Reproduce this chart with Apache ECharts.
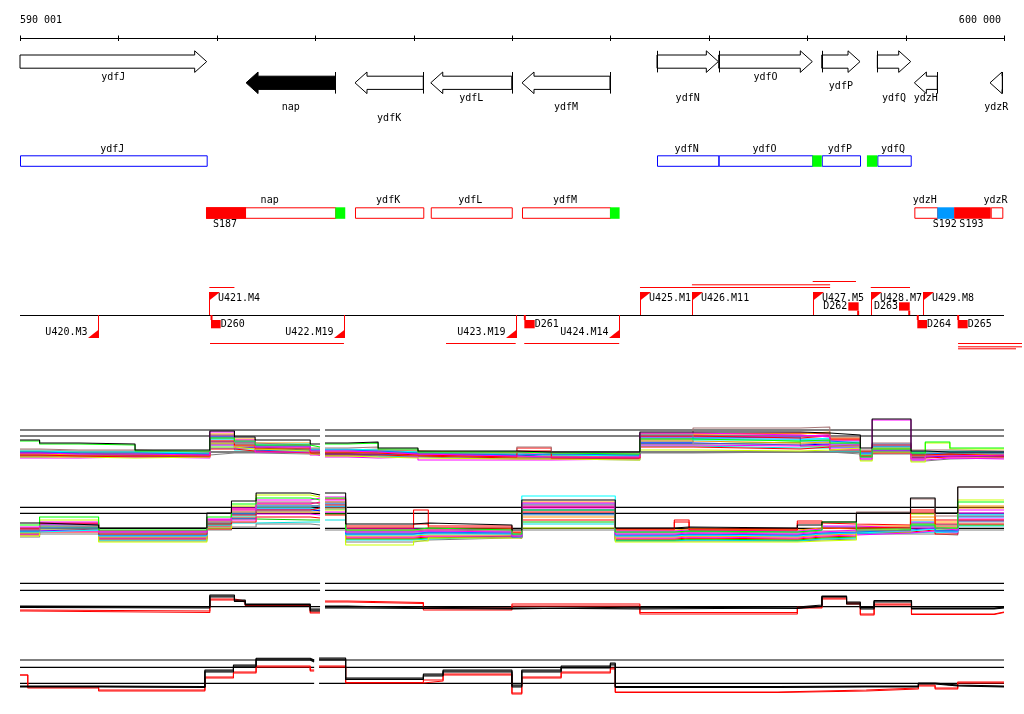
<!DOCTYPE html>
<html><head><meta charset="utf-8">
<script src="https://cdn.jsdelivr.net/npm/echarts@6.0.0/dist/echarts.min.js"></script>
<style>html,body{margin:0;padding:0;background:#fff}#c{width:1024px;height:714px}</style>
</head><body><div id="c"></div>
<script>
// ================= DATA =================
const regionStart = 590001, regionEnd = 600000;
const rulerTicks = [590001, 591000, 592000, 593000, 594000, 595000, 596000, 597000, 598000, 599000, 600000];
const rulerLabels = ['590 001', '600 000'];

// genes (arrows)
const geneNames  = ['ydfJ','nap','ydfK','ydfL','ydfM','ydfN','ydfO','ydfP','ydfQ','ydzH','ydzR'];
const geneStart  = [590001, 592298, 593405, 594175, 595102, 596474, 597101, 598148, 598713, 599089, 599858];
const geneEnd    = [591898, 593205, 594099, 594998, 595996, 597097, 598052, 598537, 599052, 599322, 599983];
const geneStrand = ['+','-','-','-','-','+','+','+','+','-','-'];
const focusGene  = 'nap';

// transcription unit boxes
const boxNames  = ['ydfJ','ydfN','ydfO','ydfP','ydfQ','nap','ydfK','ydfL','ydfM','ydzH','ydzR'];
const boxStart  = [590001, 596474, 597101, 598148, 598713, 591891, 593405, 594175, 595102, 599089, 599865];
const boxEnd    = [591898, 597097, 598052, 598537, 599052, 593205, 594099, 594998, 595996, 599322, 599983];
const boxStrand = ['+','+','+','+','+','-','-','-','-','-','-'];

// coloured segments on boxes
const segNames  = ['S187','S192','S193','','','',''];
const segStart  = [591891, 599322, 599493, 593205, 595996, 598052, 598607];
const segEnd    = [592298, 599493, 599865, 593306, 596094, 598148, 598713];
const segStrand = ['-','-','-','-','-','+','+'];
const segKind   = ['up','mid','up','term','term','term','term'];

// promoters
const promNames  = ['U420.M3','U421.M4','U422.M19','U423.M19','U424.M14','U425.M1','U426.M11','U427.M5','U428.M7','U429.M8'];
const promPos    = [590797, 591925, 593293, 595038, 596088, 596301, 596829, 598056, 598646, 599174];
const promStrand = ['-','+','-','-','-','+','+','+','+','+'];

// transcript extents
const extStart  = [591925, 596301, 596829, 598056, 598646, 591932, 594330, 595125, 599533, 599533, 599533];
const extEnd    = [592180, 598233, 598233, 598496, 599045, 593293, 595038, 596090, 600183, 600183, 600122];
const extStrand = ['+','+','+','+','+','-','-','-','-','-','-'];

// terminators
const termNames  = ['D260','D261','D262','D263','D264','D265'];
const termStart  = [591942, 595126, 598418, 598933, 599119, 599529];
const termEnd    = [592040, 595231, 598523, 599042, 599218, 599631];
const termStrand = ['-','-','+','+','-','-'];

// expression track A
const trackA_x = [590001,590200,590600,591170,591930,592180,592390,592950,593050,593100,593330,593640,594045,595050,595400,596300,596840,597930,598230,598540,598660,599055,599200,599450,600000];
const trackA_ref = [35, 29, 13];
const trackA_values = [
 [25,22,21,15,34,28,25,21,null,22,23,17,14,13,13,33,33,32,30,17,46,14,13,13],
 [24,21,20,14,27,24,20,18,null,21,22,16,13,12,11,26,24,25,22,8,16,12,23,17],
 [12,11,11,10,33,25,18,14,null,14,13,11,9,8,8,32,30,28,20,6,45,6,9,10],
 [16,15,15,13,30,22,20,17,null,17,18,15,12,18,12,31,37,38,28,15,22,15,15,14],
 [10,9,9,9,24,20,17,12,null,12,12,10,8,17,7,29,27,29,26,14,20,10,11,9],
 [13,12,12,11,28,23,19,15,null,15,14,12,10,11,10,27,28,24,22,12,19,11,12,12],
 [14,13,13,12,26,21,21,16,null,16,15,13,11,10,9,30,25,27,23,11,18,13,14,13],
 [11,10,10,9,22,19,16,13,null,13,12,10,8,9,8,24,22,23,19,10,17,9,10,11],
 [15,14,14,12,25,20,18,15,null,15,16,13,11,10,10,25,21,22,21,13,16,12,13,12],
 [8,8,7,8,18,16,14,11,null,9,8,7,6,6,5,15,14,15,17,4,13,3,22,16],
 [7,7,8,7,20,17,13,10,null,8,7,8,5,5,6,20,19,20,16,7,15,5,7,6],
 [9,9,8,8,16,14,12,10,null,10,10,9,7,7,7,18,16,18,15,9,12,7,8,8],
 [12,11,10,10,23,18,15,12,null,11,11,11,9,9,9,22,20,21,18,9,14,8,9,9],
 [13,12,11,11,21,17,15,13,null,12,13,12,10,8,10,21,23,19,20,10,15,10,11,10],
 [10,10,9,9,19,15,13,11,null,11,9,9,7,7,6,19,17,17,14,8,13,6,10,11],
 [9,8,9,10,12,12,11,10,null,9,9,8,6,6,5,12,13,13,11,5,11,4,6,7],
 [11,10,10,9,29,24,20,14,null,13,14,12,9,12,8,28,29,30,24,12,14,9,10,10],
 [14,13,12,11,31,26,22,16,null,14,15,14,12,10,11,26,31,33,27,13,17,12,12,11],
 [8,9,9,8,17,18,16,12,null,10,11,10,8,8,7,23,26,26,21,11,21,8,9,9],
 [12,12,11,10,27,22,19,14,null,12,13,12,10,14,9,31,32,31,25,13,18,11,11,12]
];

// expression track B
const trackB_x = [590001,590200,590800,591900,592150,592400,592950,593050,593100,593310,594000,594150,595000,595100,596050,596650,596800,597900,598150,598500,599050,599300,599530,600000];
const trackB_ref = [42.7, 36.7, 21.7];
const trackB_values = [
 [27,25,22,37,49,57,55,null,57,26,27,25,20,50,22,23,22,25,28,37,52,37,63],
 [25,33,20,33,46,52,50,null,52,20,22,20,16,40,18,19,18,20,28,20,25,22,48],
 [23,28,18,30,40,50,52,null,53,18,19,18,14,47,16,17,16,18,20,19,22,20,40],
 [20,24,17,28,38,48,46,null,48,19,20,19,15,45,17,18,17,19,19,38,51,34,63],
 [21,27,16,26,35,40,42,null,45,24,40,24,18,38,21,30,20,29,22,23,38,26,30],
 [19,22,15,27,36,44,44,null,46,16,18,17,13,36,15,16,15,17,18,20,22,19,33],
 [18,20,14,25,34,42,41,null,44,15,16,16,14,54,14,15,14,16,17,19,21,18,35],
 [17,21,13,24,33,38,38,null,42,14,15,15,13,33,13,14,13,15,16,21,30,24,42],
 [22,24,18,29,37,45,43,null,47,17,17,17,15,35,15,16,15,17,18,20,23,21,28],
 [14,30,8,22,44,55,53,null,40,5,9,12,12,22,8,8,8,9,10,18,36,22,50],
 [16,19,12,23,30,36,35,null,38,13,14,14,12,42,12,13,12,14,15,17,19,17,31],
 [15,18,11,21,28,33,32,null,35,12,13,13,14,30,11,12,11,13,14,18,20,16,26],
 [19,21,14,24,32,41,39,null,43,16,17,16,13,40,14,15,14,16,17,18,24,19,29],
 [17,23,12,26,31,30,30,null,36,11,12,14,12,28,10,11,10,12,13,22,26,20,25],
 [16,20,10,22,27,28,28,null,30,10,11,13,13,26,9,10,9,11,12,17,18,17,24],
 [13,16,9,20,23,26,25,null,20,8,10,12,12,20,9,9,9,10,11,16,16,15,20],
 [21,26,19,31,42,47,47,null,50,21,21,20,16,44,19,20,19,21,24,22,27,23,37],
 [18,22,16,28,39,43,45,null,48,20,20,21,17,48,20,21,20,22,21,24,33,28,44],
 [20,25,17,25,36,39,40,null,41,18,18,18,15,46,18,19,18,20,23,21,28,25,36],
 [22,26,19,30,41,46,48,null,51,22,26,22,17,43,20,28,21,27,26,25,40,30,34]
];

// expression track C
const trackC_x = [590001,590060,591930,592180,592290,592950,593050,593100,593330,594100,595000,596300,597900,598150,598400,598540,598680,599060,599900,600000];
const trackC_ref = [36.7, 29.7, 13.3];
const trackC_values = [
 [14,13.5,25,20,16,11,null,13,13,11.5,12,13,15,24,18,12,19.5,12,13],
 [13,13,24,19,15.5,10,null,14,12,12,11,12,14,23.5,17,11,19,11,12],
 [12.5,12,23,18.5,15,9,null,12,11.5,11,13,11.5,13.5,23,16,12.5,18,11.5,12.5],
 [10,9,21,19,15,8,null,19,17.5,12,16,7.5,13,22,17,5,16,6,8],
 [9,7.5,20,18,14.5,7,null,18,16.5,10,14,6,12,21,16,6,15,5.5,7.5]
];

// expression track D
const trackD_x = [590001,590080,590800,591880,592170,592400,592950,592990,593040,593310,594100,594300,595000,595100,595500,596000,596050,597700,598600,599130,599300,599530,600000];
const trackD_ref = [40, 32.7, 16.7];
const trackD_values = [
 [14,14,13.5,30,35,41.7,40,null,42,22,26,30,15,30,34,37,13.5,14,14,17,15,14],
 [13.5,13.5,13,29,34,41,39,null,41,21,25,29,14,29,33,36,13,13.5,13.5,16.5,14.5,13.5],
 [13,13,12.5,28,33,40,38,null,40,20.5,24,28,13,28,32,35,12.5,13,13,16,14,13],
 [25,13,10,23,28,34,30,null,34,17.5,20,26,7,23,28,32,8,10,12,15,12,18],
 [25,12,9,22,27,33,29,null,33,17,19,25,6,22,27,31,7.5,9,11,14,11,17]
];

// ================= STYLE / LAYOUT =================
const FONT = '10px "DejaVu Sans Mono", "Liberation Mono", monospace';
const multiColors = ['#000000','#00ff00','#ff00ff','#a87878','#ff0000','#0080ff','#00ffff','#ff9900','#999999','#ccff00','#ff00ff','#ff0000','#0000ff','#00cc00','#00e0e0','#808080','#ff00ff','#ff9900','#0080ff','#ff0000'];
const pairColors = ['#000000','#000000','#000000','#ff0000','#ff0000'];
const L = {
  rulerY: 38, rulerLabelY: 20.5,
  geneY: {'+': 61.6, '-': 82.8}, geneBody: 6.6, geneHead: 10.8, geneHeadLen: 12,
  geneLabelY: {'+': [77.3, 86, 98.3], '-': [98.3, 107.5, 118.3]},
  geneLabelLevel: [0,1,2,0,1,2,0,1,2,0,1],
  boxY: {'+': 155.3, '-': 207.3}, boxH: 10.5, boxLabelY: {'+': 149.3, '-': 200.7}, segLabelY: 224.3,
  baseY: 315, promLen: 23, flagW: 10.5, flagH: 8.3,
  promLabelY: {'+': 298.3, '-': 332.3},
  extY: {'+': [287, 284.3, 281], '-': [343, 346.3, 348.3]},
  extLevel: [0,0,1,2,0,0,0,0,0,1,2],
  termY: {'+': 302.3, '-': 320}, termH: 8.3, termLabelY: {'+': 306.2, '-': 324.2},
  tracks: [
    {top: 415, height: 50, max: 50},
    {top: 480, height: 70, max: 70},
    {top: 575, height: 45, max: 45},
    {top: 650, height: 50, max: 50}
  ]
};
const segColor = {up: '#ff0000', mid: '#0099ff', term: '#00ff00'};

// ================= BUILD =================
function stepData(xs, vals) {
  const out = [];
  for (let i = 0; i < vals.length; i++) {
    if (vals[i] === null) { out.push([(xs[i] + xs[i+1]) / 2, '-']); continue; }
    out.push([xs[i], vals[i]], [xs[i+1], vals[i]]);
  }
  return out;
}
function refData(levels, xs, vals) {
  const gi = vals[0].indexOf(null);
  const gs = xs[gi], ge = xs[gi+1];
  const out = [];
  levels.forEach(v => {
    out.push([regionStart, v], [gs, v], [(gs + ge) / 2, '-'], [ge, v], [regionEnd, v], [regionEnd, '-']);
  });
  return out;
}
const txt = (text, x, y, align) => ({type: 'text', silent: true, style: {text, x, y, font: FONT, fill: '#000', align: align || 'center', verticalAlign: 'middle'}});
const ln = (x1, y1, x2, y2, color, w) => ({type: 'line', silent: true, shape: {x1, y1, x2, y2}, style: {stroke: color || '#000', lineWidth: w || 1}});

const grids = [{left: 20, right: 20, top: 0, bottom: 0}];
const xAxes = [{type: 'value', min: regionStart, max: regionEnd, show: false, gridIndex: 0}];
const yAxes = [{type: 'value', min: 0, max: 1, show: false, gridIndex: 0}];
L.tracks.forEach((t, i) => {
  grids.push({left: 20, right: 20, top: t.top, height: t.height});
  xAxes.push({type: 'value', min: regionStart, max: regionEnd, show: false, gridIndex: i + 1});
  yAxes.push({type: 'value', min: 0, max: t.max, show: false, gridIndex: i + 1});
});

const series = [];
function custom(name, data, render) {
  series.push({type: 'custom', name, xAxisIndex: 0, yAxisIndex: 0, clip: false, silent: true, animation: false,
    data, encode: {x: [0, 1]}, renderItem: render});
}
const Xf = api => v => api.coord([v, 0])[0];

// ruler + feature baseline
custom('ruler', [[regionStart, regionEnd]], (p, api) => {
  const X = Xf(api);
  const x0 = X(regionStart), x1 = X(regionEnd);
  const ch = [ln(x0, L.rulerY + 0.5, x1, L.rulerY + 0.5), ln(x0, L.baseY + 0.5, x1, L.baseY + 0.5)];
  rulerTicks.forEach(t => ch.push(ln(Math.round(X(t)) + 0.5, L.rulerY - 2.5, Math.round(X(t)) + 0.5, L.rulerY + 3)));
  ch.push(txt(rulerLabels[0], x0, L.rulerLabelY, 'left'));
  ch.push(txt(rulerLabels[1], x1 - 3, L.rulerLabelY, 'right'));
  return {type: 'group', children: ch};
});

// gene arrows
custom('genes', geneNames.map((n, i) => [geneStart[i], geneEnd[i], i]), (p, api) => {
  const X = Xf(api);
  const i = api.value(2);
  const x0 = X(api.value(0)), x1 = X(api.value(1));
  const s = geneStrand[i], yc = L.geneY[s], b = L.geneBody, hd = L.geneHead;
  const h = Math.min(L.geneHeadLen, x1 - x0);
  const pts = s === '+'
    ? [[x0,yc-b],[x1-h,yc-b],[x1-h,yc-hd],[x1,yc],[x1-h,yc+hd],[x1-h,yc+b],[x0,yc+b]]
    : [[x1,yc-b],[x0+h,yc-b],[x0+h,yc-hd],[x0,yc],[x0+h,yc+hd],[x0+h,yc+b],[x1,yc+b]];
  const filled = geneNames[i] === focusGene;
  const ch = [{type: 'polygon', silent: true, shape: {points: pts}, style: {fill: filled ? '#000' : '#fff', stroke: '#000', lineWidth: 1}}];
  if (geneStart[i] > regionStart) {
    const bx = Math.round(s === '+' ? x0 : x1) + 0.5;
    ch.push(ln(bx, yc - hd, bx, yc + hd));
  }
  ch.push(txt(geneNames[i], (x0 + x1) / 2, L.geneLabelY[s][L.geneLabelLevel[i]]));
  return {type: 'group', children: ch};
});

// boxes
custom('boxes', boxNames.map((n, i) => [boxStart[i], boxEnd[i], i]), (p, api) => {
  const X = Xf(api);
  const i = api.value(2);
  const x0 = X(api.value(0)), x1 = X(api.value(1));
  const s = boxStrand[i];
  return {type: 'group', children: [
    {type: 'rect', silent: true, shape: {x: x0 + 0.5, y: L.boxY[s] + 0.5, width: x1 - x0, height: L.boxH}, style: {fill: '#fff', stroke: s === '+' ? '#0000ff' : '#ff0000', lineWidth: 1}},
    txt(boxNames[i], (x0 + x1) / 2 - 1, L.boxLabelY[s])
  ]};
});

// coloured segments
custom('segments', segStart.map((v, i) => [segStart[i], segEnd[i], i]), (p, api) => {
  const X = Xf(api);
  const i = api.value(2);
  const x0 = X(api.value(0)), x1 = X(api.value(1));
  const s = segStrand[i];
  const ch = [{type: 'rect', silent: true, shape: {x: x0, y: L.boxY[s], width: x1 - x0, height: L.boxH + 1}, style: {fill: segColor[segKind[i]]}}];
  if (segNames[i]) ch.push(txt(segNames[i], (x0 + x1) / 2 - 1, L.segLabelY));
  return {type: 'group', children: ch};
});

// extents
custom('extents', extStart.map((v, i) => [extStart[i], extEnd[i], i]), (p, api) => {
  const X = Xf(api);
  const i = api.value(2);
  const y = L.extY[extStrand[i]][L.extLevel[i]] + 0.5;
  return ln(X(api.value(0)), y, X(api.value(1)), y, '#ff0000');
});

// promoters
custom('promoters', promPos.map((v, i) => [v, v, i]), (p, api) => {
  const X = Xf(api);
  const i = api.value(2);
  const x = Math.round(X(api.value(0))) + 0.5;
  const s = promStrand[i], B = L.baseY;
  if (s === '+') {
    const yt = B - L.promLen;
    return {type: 'group', children: [
      ln(x, B, x, yt, '#ff0000'),
      {type: 'polygon', silent: true, shape: {points: [[x, yt], [x + L.flagW, yt], [x, yt + L.flagH]]}, style: {fill: '#ff0000'}},
      txt(promNames[i], x + 8.5, L.promLabelY[s], 'left')
    ]};
  }
  const yb = B + L.promLen;
  return {type: 'group', children: [
    ln(x, B, x, yb, '#ff0000'),
    {type: 'polygon', silent: true, shape: {points: [[x, yb], [x - L.flagW, yb], [x, yb - L.flagH]]}, style: {fill: '#ff0000'}},
    txt(promNames[i], x - 11, L.promLabelY[s], 'right')
  ]};
});

// terminators
custom('terminators', termStart.map((v, i) => [termStart[i], termEnd[i], i]), (p, api) => {
  const X = Xf(api);
  const i = api.value(2);
  const x0 = X(api.value(0)), x1 = X(api.value(1));
  const s = termStrand[i], y = L.termY[s];
  const ch = [{type: 'rect', silent: true, shape: {x: x0, y, width: x1 - x0, height: L.termH}, style: {fill: '#ff0000'}}];
  if (s === '+') {
    ch.push(ln(x1 - 0.5, y + L.termH, x1 - 0.5, L.baseY, '#ff0000', 2));
    ch.push(txt(termNames[i], x0 - 1, L.termLabelY[s], 'right'));
  } else {
    ch.push(ln(x0 + 0.5, L.baseY, x0 + 0.5, y, '#ff0000', 2));
    ch.push(txt(termNames[i], x1, L.termLabelY[s], 'left'));
  }
  return {type: 'group', children: ch};
});

// expression tracks
const tracks = [
  {x: trackA_x, ref: trackA_ref, vals: trackA_values, colors: multiColors},
  {x: trackB_x, ref: trackB_ref, vals: trackB_values, colors: multiColors},
  {x: trackC_x, ref: trackC_ref, vals: trackC_values, colors: pairColors},
  {x: trackD_x, ref: trackD_ref, vals: trackD_values, colors: pairColors}
];
tracks.forEach((t, k) => {
  series.push({type: 'line', name: 'ref' + k, xAxisIndex: k + 1, yAxisIndex: k + 1, data: refData(t.ref, t.x, t.vals),
    showSymbol: false, symbol: 'none', silent: true, animation: false, lineStyle: {color: '#000', width: 1.2}, z: 1});
  const order = t.vals.map((v, i) => i).reverse();
  order.forEach(i => {
    series.push({type: 'line', name: 't' + k + 's' + i, xAxisIndex: k + 1, yAxisIndex: k + 1, data: stepData(t.x, t.vals[i]),
      showSymbol: false, symbol: 'none', silent: true, animation: false, lineStyle: {color: t.colors[i], width: 1.1}, z: 2});
  });
});

const chart = echarts.init(document.getElementById('c'), null, {renderer: 'canvas'});
chart.setOption({animation: false, grid: grids, xAxis: xAxes, yAxis: yAxes, series});
</script>
</body></html>
